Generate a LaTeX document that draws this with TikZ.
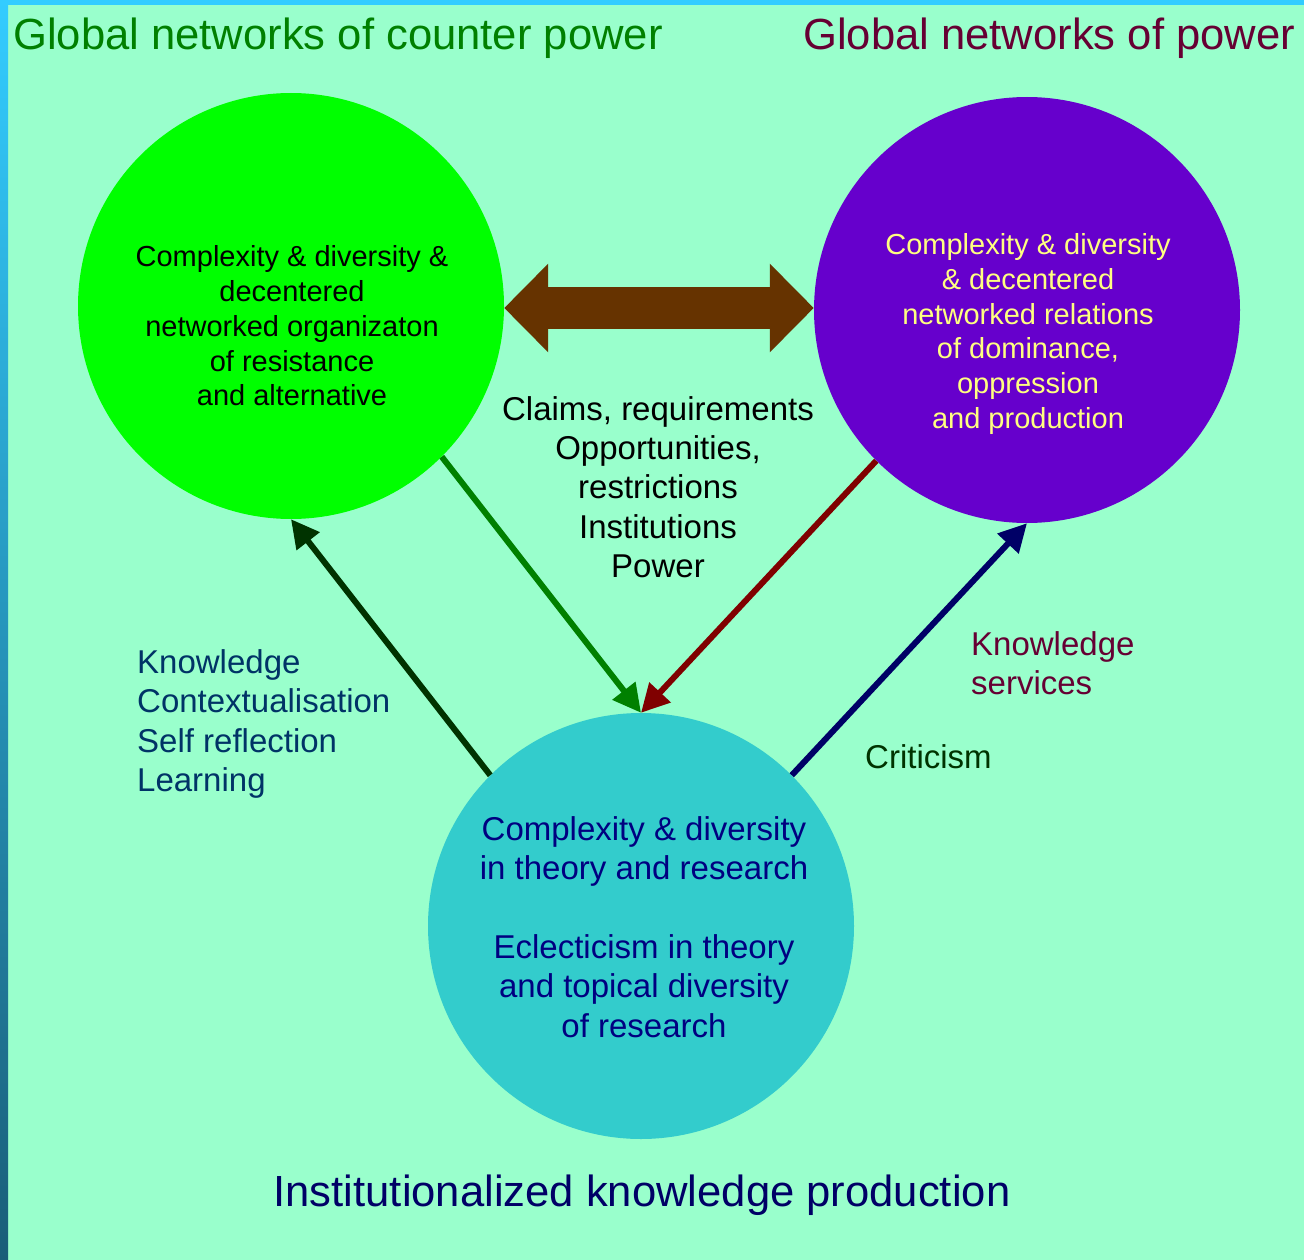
\documentclass[tikz,border=0pt]{standalone}
\usepackage{fontspec}
\setmainfont{Liberation Sans}
\usetikzlibrary{arrows.meta}

\definecolor{bgmint}{HTML}{99FFCC}
\definecolor{barblue}{HTML}{33CCFF}
\definecolor{bardark}{HTML}{1A5E78}
\definecolor{cgreen}{HTML}{00FF00}
\definecolor{cpurple}{HTML}{6600CC}
\definecolor{cteal}{HTML}{33CCCC}
\definecolor{abrown}{HTML}{663300}
\definecolor{adkgreen}{HTML}{003300}
\definecolor{agreen}{HTML}{008000}
\definecolor{ared}{HTML}{800000}
\definecolor{anavy}{HTML}{000066}
\definecolor{tmaroon}{HTML}{660033}
\definecolor{tblue}{HTML}{003366}
\definecolor{tyellow}{HTML}{FFFF80}
\definecolor{tnavy}{HTML}{000080}

\begin{document}
\begin{tikzpicture}[
            x=1pt, y=-1pt,
            circ/.style={circle, minimum size=426pt, inner sep=0pt},
            txt/.style={align=center, inner sep=0pt},
            big/.style={inner sep=0pt, font=\fontsize{43.6}{50}\selectfont},
            mid/.style={font=\fontsize{33}{39.3}\selectfont},
            small/.style={font=\fontsize{29}{34.7}\selectfont},
            arrow/.style={line width=6pt, -{Triangle[length=28pt, width=28pt]}},
            twoway/.style={line width=42pt, {Triangle[length=44pt, width=86pt]}-{Triangle[length=44pt, width=86pt]}}
        ]
            % Background
            \fill[bgmint] (0,0) rectangle (1304,1260);
            \useasboundingbox (0,0) rectangle (1304,1260);
            \fill[barblue] (0,0) rectangle (1304,5);
            \shade[top color=barblue, bottom color=bardark] (0,0) rectangle (8,1260);

            % Circles
            \node[circ, fill=cgreen] (counter) at (291,306) {};
            \node[circ, fill=cpurple] (power) at (1027,310) {};
            \node[circ, fill=cteal] (science) at (641,926) {};
            \coordinate (axis) at (660,308);

            % Titles
            \node[big, text=agreen, anchor=base west] (countertitle) at (13,50) {Global networks of counter power};
            \node[big, text=tmaroon, anchor=base west] (powertitle) at (803,50) {Global networks of power};
            \node[big, text=anavy, anchor=base] (sciencetitle) at (642,1206) {Institutionalized knowledge production};

            % Circle texts
            \node[txt, small] (countertxt) at (292,326) {Complexity \& diversity \&\\decentered\\networked organizaton\\of resistance\\and alternative};
            \node[txt, small, text=tyellow] (powertxt) at (1028,334) {Complexity \& diversity\\\& decentered\\networked relations\\of dominance,\\oppression\\and production};
            \node[txt, mid, text=tnavy] (sciencetxt) at (644,927) {Complexity \& diversity\\in theory and research\\[39.3pt]Eclecticism in theory\\and topical diversity\\of research};

            % Arrow labels
            \node[txt, mid] (claims) at (658,487) {Claims, requirements\\Opportunities,\\restrictions\\Institutions\\Power};
            \node[txt, mid, text=tblue, align=left, anchor=west] (learning) at (137,724) {Knowledge\\Contextualisation\\Self reflection\\Learning};
            \node[txt, mid, text=tmaroon, align=left, anchor=west] (services) at (971,663) {Knowledge\\services};
            \node[mid, inner sep=0pt, text=adkgreen, anchor=base west] (criticism) at (865,768) {Criticism};

            % Arrows
            \draw[twoway, abrown] (counter.east |- axis) -- (power.west |- axis);
            \draw[arrow, adkgreen] (science.135) -- (counter.south);
            \draw[arrow, agreen] (counter.-45) -- (science.north);
            \draw[arrow, ared] (power.-135) -- (science.north);
            \draw[arrow, anavy] (science.45) -- (power.south);
        \end{tikzpicture}
\end{document}
